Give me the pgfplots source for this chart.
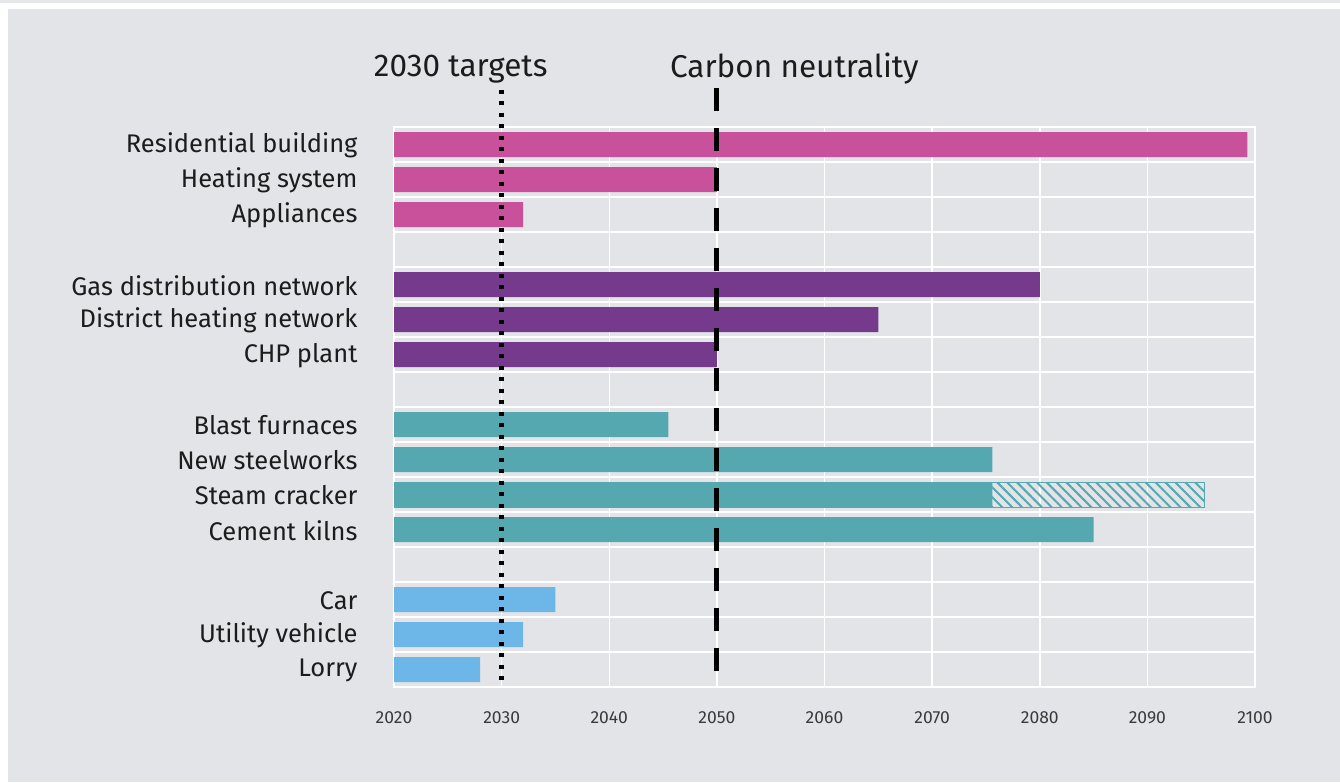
\documentclass[border=0pt]{standalone}
\usepackage{pgfplots}
\pgfplotsset{compat=1.18}
\usetikzlibrary{patterns.meta}
\usepackage{fontspec}
\setmainfont{Fira Sans}

\definecolor{bgc}{HTML}{E2E4E8}
\definecolor{topc}{HTML}{E6E7E9}
\definecolor{pinkc}{HTML}{C9509A}
\definecolor{purplec}{HTML}{753A8C}
\definecolor{tealc}{HTML}{55A8B0}
\definecolor{bluec}{HTML}{6DB6E8}
\definecolor{labc}{HTML}{1C1C1C}
\definecolor{tickc}{HTML}{3A3A3A}

\begin{document}
\begin{tikzpicture}[x=1pt,y=1pt]
\useasboundingbox (0,0) rectangle (1340,782);
\fill[white] (0,0) rectangle (1340,782);
\fill[bgc] (8,0) rectangle (1340,773);
\fill[topc] (0,779) rectangle (1340,782);
\begin{axis}[
  at={(394pt,95pt)}, anchor=south west,
  scale only axis, width=861pt, height=560pt,
  xmin=2020, xmax=2100, ymin=0.5, ymax=16.5, y dir=reverse,
  xtick={2020,2030,...,2100},
  /pgf/number format/assume math mode=true,
  /pgf/number format/1000 sep={},
  xticklabel style={font=\fontsize{17.5}{20}\selectfont, text=tickc, yshift=-21pt},
  ytick={1,2,3,5,6,7,9,10,11,12,14,15,16},
  yticklabels={Residential building, Heating system, Appliances,
    Gas distribution network, District heating network, CHP plant,
    Blast furnaces, New steelworks, Steam cracker, Cement kilns,
    Car, Utility vehicle, Lorry},
  yticklabel style={font=\fontsize{25.5}{29}\selectfont, text=labc, anchor=east, xshift=-33pt, yshift=-1pt},
  minor ytick={1.5,2.5,...,15.5},
  yminorgrids, xmajorgrids,
  major grid style={white, line width=1.5pt},
  minor grid style={white, line width=1.5pt},
  tick style={draw=none},
  major tick length=0pt, minor tick length=0pt,
  axis line style={white, line width=2.5pt},
  axis background/.style={fill=bgc},
  clip mode=individual,
  xbar, bar width=25pt, bar shift=0pt,
]
% buildings
\addplot[fill=pinkc, draw=none] coordinates {(2099.3,1) (2050,2) (2032,3)};
% networks and plants
\addplot[fill=purplec, draw=none] coordinates {(2080,5) (2065,6) (2050,7)};
% industry: possible extension of the steam cracker lifetime
\addplot[draw=tealc, line width=1pt, pattern={Lines[angle=-45,distance=7pt,line width=2pt]}, pattern color=tealc] coordinates {(2095.3,11)};
\addplot[fill=tealc, draw=none] coordinates {(2045.5,9) (2075.6,10) (2075.6,11) (2085,12)};
% vehicles
\addplot[fill=bluec, draw=none] coordinates {(2035,14) (2032,15) (2028,16)};

% policy milestones
\draw[black, line width=5pt, dash pattern=on 4pt off 7.5pt] (axis cs:2030,-0.56) -- (axis cs:2030,16.5);
\draw[black, line width=5pt, dash pattern=on 23pt off 17pt] (axis cs:2050,-0.61) -- (axis cs:2050,16.16);
\node[font=\fontsize{31.5}{36}\selectfont, text=labc] at (axis cs:2026.2,-1.16) {2030 targets};
\node[font=\fontsize{31.5}{36}\selectfont, text=labc] at (axis cs:2057.2,-1.16) {Carbon neutrality};
\end{axis}
\end{tikzpicture}
\end{document}
